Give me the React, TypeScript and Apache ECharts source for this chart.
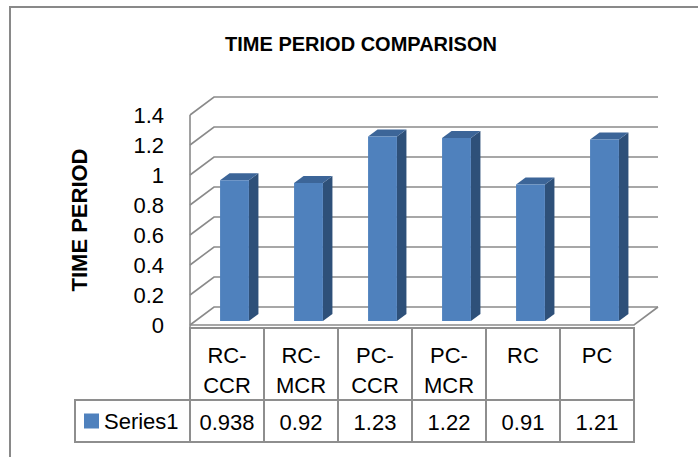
import React, { useEffect, useRef } from 'react';
import * as echarts from 'echarts';

const titleText = 'TIME PERIOD COMPARISON';
const yAxisTitle = 'TIME PERIOD';
const seriesName = 'Series1';
const categories = ['RC-\nCCR', 'RC-\nMCR', 'PC-\nCCR', 'PC-\nMCR', 'RC', 'PC'];
const values = [0.938, 0.92, 1.23, 1.22, 0.91, 1.21];
const valueLabels = ['0.938', '0.92', '1.23', '1.22', '0.91', '1.21'];
const yTicks = [0, 0.2, 0.4, 0.6, 0.8, 1.0, 1.2, 1.4];

const FONT = "'Liberation Sans', Arial, sans-serif";
const GRID_COLOR = '#8a8a8a';
const TABLE_COLOR = '#8e8e8e';
const FRONT = '#4f81bd';
const SIDE = '#2e5079';
const TOP = '#3c6598';

// wall depth (perspective offsets)
const DX = 24;
const DY = 18;
// bar placement
const SX = 7.5;
const SY = 4;
const BX = 9.5;
const BY = 7;

export default function App() {
  const ref = useRef<HTMLDivElement>(null);
  useEffect(() => {
    if (!ref.current) return;
    const chart = echarts.init(ref.current, undefined, { renderer: 'svg' });

    const option: any = {
      animation: false,
      backgroundColor: '#ffffff',
      title: {
        text: titleText,
        left: 361,
        top: 34,
        padding: 0,
        textAlign: 'center',
        textStyle: { fontFamily: FONT, fontSize: 20, fontWeight: 'bold', color: '#000' },
      },
      legend: {
        data: [{ name: seriesName, icon: 'rect' }],
        left: 84,
        top: 410,
        padding: 0,
        itemWidth: 15,
        itemHeight: 15,
        textStyle: { fontFamily: FONT, fontSize: 22, color: '#000' },
        selectedMode: false,
      },
      grid: { left: 190, right: 64, top: 115, bottom: 132, containLabel: false },
      xAxis: {
        type: 'category',
        data: categories,
        boundaryGap: true,
        axisLine: { show: false },
        axisTick: { show: false },
        axisLabel: { show: false },
        splitLine: { show: false },
      },
      yAxis: {
        type: 'value',
        min: 0,
        max: 1.4,
        interval: 0.2,
        name: yAxisTitle,
        nameLocation: 'middle',
        nameGap: 100,
        nameTextStyle: { fontFamily: FONT, fontSize: 22, fontWeight: 'bold', color: '#000' },
        axisLine: { show: false },
        axisTick: { show: false },
        splitLine: { show: false },
        axisLabel: {
          fontFamily: FONT,
          fontSize: 22,
          color: '#000',
          margin: 26,
          padding: [5, 0, 0, 0],
          formatter: (v: number) => String(parseFloat(v.toFixed(2))),
        },
      },
      graphic: [
        {
          type: 'rect',
          shape: { x: 10, y: 7, width: 900, height: 700 },
          style: { fill: null, stroke: '#898989', lineWidth: 2 },
          silent: true,
          z: -10,
        },
        {
          type: 'rect',
          shape: { x: 75, y: 400, width: 115, height: 42 },
          style: { fill: null, stroke: TABLE_COLOR, lineWidth: 2 },
          silent: true,
        },
      ],
      series: [
        {
          type: 'custom',
          name: 'walls',
          silent: true,
          z: 1,
          data: yTicks.map((v) => [0, v]),
          renderItem: (params: any, api: any) => {
            const cs = params.coordSys;
            const v = api.value(1);
            const y = api.coord([0, v])[1];
            const x0 = cs.x;
            const x1 = cs.x + cs.width;
            const children: any[] = [
              {
                type: 'polyline',
                shape: { points: [[x0, y], [x0 + DX, y - DY], [x1 + DX, y - DY]] },
                style: { stroke: GRID_COLOR, lineWidth: 1.6, fill: null },
              },
            ];
            if (v === 0) {
              const yTop = api.coord([0, yTicks[yTicks.length - 1]])[1];
              children.push({
                type: 'polyline',
                shape: { points: [[x0, y], [x1, y], [x1 + DX, y - DY]] },
                style: { stroke: GRID_COLOR, lineWidth: 1.6, fill: null },
              });
              children.push({
                type: 'line',
                shape: { x1: x0, y1: yTop, x2: x0, y2: y + 3 },
                style: { stroke: GRID_COLOR, lineWidth: 1.6 },
              });
            }
            return { type: 'group', children };
          },
        },
        {
          type: 'custom',
          name: seriesName,
          z: 2,
          itemStyle: { color: FRONT },
          data: values.map((v, i) => [i, v]),
          renderItem: (params: any, api: any) => {
            const i = api.value(0);
            const v = api.value(1);
            const base = api.coord([i, 0]);
            const top = api.coord([i, v]);
            const band = api.size([1, 0])[0];
            const fw = band * 0.39;
            const cx = base[0] + SX;
            const xl = cx - fw / 2;
            const xr = cx + fw / 2;
            const yb = base[1] - SY;
            const yt = top[1] - SY;
            return {
              type: 'group',
              children: [
                {
                  type: 'polygon',
                  shape: { points: [[xr, yt], [xr + BX, yt - BY], [xr + BX, yb - BY], [xr, yb]] },
                  style: { fill: SIDE },
                },
                {
                  type: 'polygon',
                  shape: { points: [[xl, yt], [xl + BX, yt - BY], [xr + BX, yt - BY], [xr, yt]] },
                  style: { fill: TOP },
                },
                {
                  type: 'rect',
                  shape: { x: xl, y: yt, width: fw, height: yb - yt },
                  style: { fill: FRONT },
                },
              ],
            };
          },
        },
        {
          type: 'custom',
          name: 'table',
          silent: true,
          z: 3,
          data: values.map((v, i) => [i, v]),
          renderItem: (params: any, api: any) => {
            const i = api.value(0);
            const base = api.coord([i, 0]);
            const band = api.size([1, 0])[0];
            const xl = base[0] - band / 2;
            const t1 = base[1] + 3;
            const t2 = 400;
            const bottom = 442;
            return {
              type: 'group',
              children: [
                {
                  type: 'rect',
                  shape: { x: xl, y: t1, width: band, height: t2 - t1 },
                  style: { fill: null, stroke: TABLE_COLOR, lineWidth: 2 },
                },
                {
                  type: 'rect',
                  shape: { x: xl, y: t2, width: band, height: bottom - t2 },
                  style: { fill: null, stroke: TABLE_COLOR, lineWidth: 2 },
                },
                {
                  type: 'text',
                  style: {
                    text: categories[i],
                    x: base[0],
                    y: t1 + 12,
                    align: 'center',
                    verticalAlign: 'top',
                    lineHeight: 30,
                    fontFamily: FONT,
                    fontSize: 22,
                    fill: '#000',
                  },
                },
                {
                  type: 'text',
                  style: {
                    text: valueLabels[i],
                    x: base[0],
                    y: (t2 + bottom) / 2 + 1,
                    align: 'center',
                    verticalAlign: 'middle',
                    fontFamily: FONT,
                    fontSize: 22,
                    fill: '#000',
                  },
                },
              ],
            };
          },
        },
      ],
    };

    chart.setOption(option);
    return () => chart.dispose();
  }, []);

  return (
    <div
      ref={ref}
      style={{ position: 'absolute', left: 0, top: 0, width: 698, height: 457, background: '#fff' }}
    />
  );
}
